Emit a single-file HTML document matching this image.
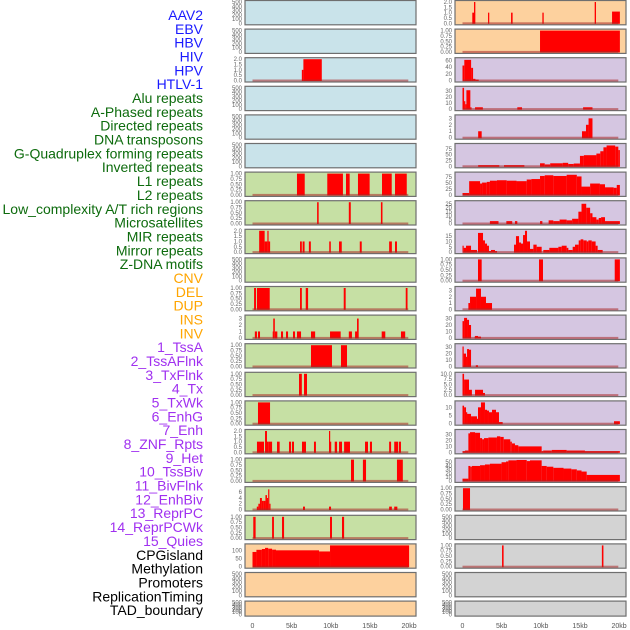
<!DOCTYPE html>
<html><head><meta charset="utf-8"><style>
html,body{margin:0;padding:0;background:#fff;width:630px;height:630px;overflow:hidden}
svg{display:block;font-family:"Liberation Sans",sans-serif}
</style></head><body>
<svg id="chart" width="630" height="630" viewBox="0 0 630 630"></svg>
<script>
const labels = ["AAV2","EBV","HBV","HIV","HPV","HTLV-1","Alu repeats","A-Phased repeats","Directed repeats","DNA transposons","G-Quadruplex forming repeats","Inverted repeats","L1 repeats","L2 repeats","Low_complexity A/T rich regions","Microsatellites","MIR repeats","Mirror repeats","Z-DNA motifs","CNV","DEL","DUP","INS","INV","1_TssA","2_TssAFlnk","3_TxFlnk","4_Tx","5_TxWk","6_EnhG","7_Enh","8_ZNF_Rpts","9_Het","10_TssBiv","11_BivFlnk","12_EnhBiv","13_ReprPC","14_ReprPCWk","15_Quies","CPGisland","Methylation","Promoters","ReplicationTiming","TAD_boundary"];
const labelColors = ["#1a1aff","#0d6b0d","#ffa500","#a030f0","#000000"];
const labelGroups = [0,0,0,0,0,0,1,1,1,1,1,1,1,1,1,1,1,1,1,2,2,2,2,2,3,3,3,3,3,3,3,3,3,3,3,3,3,3,3,4,4,4,4,4];
const xTickKb = [0,5,10,15,20];
const xTickLabels = ["0","5kb","10kb","15kb","20kb"];
const E = ["0","100","200","300","400","500"];
const P1 = ["0.00","0.25","0.50","0.75","1.00"];
const P2 = ["0.0","0.5","1.0","1.5","2.0"];
const leftTicks = [E,E,P2,E,E,E,P1,P1,P2,E,P1,["0","1","2","3"],P1,P1,P1,P2,P1,["0","2","4","6"],P1,["0","50","100"],E,E];
const leftMax = [500,500,2,500,500,500,1,1,2,500,1,3.3,1,1,1,2,1,7.4,1,130,500,500];
const rightTicks = [P2,P1,["0","20","40","60"],["0","10","20","30"],["0","1","2","3"],["0","25","50","75"],["0","25","50","75"],["0","5","10","15","20","25"],["0","5","10","15"],P1,["0","1","2","3"],["0","10","20","30"],["0","10","20","30"],["0.0","2.5","5.0","7.5","10.0"],["0","5","10"],["0","10","20","30"],["0","10","20","30","40","50"],P1,E,P1,E,E];
const rightMax = [2,1,64,35,3.3,92,90,27,20,1,3.4,33,33,10,13,36,57,1,500,1,500,500];
// segments: [startKb, endKb, value]
const leftSegs = [
 [],[],
 [[6.3,6.5,1],[6.5,8.85,2]],
 [],[],[],
 [[5.68,6.67,1],[9.55,11.55,1],[11.94,12.41,1],[13.47,14.96,1],[16.54,17.78,1],[18.2,19.7,1]],
 [[8.25,8.45,1],[12.3,12.55,1],[16.4,16.6,1]],
 [[0.85,1.55,2],[1.55,1.9,1],[1.9,2.05,2],[2.05,2.25,1],[6.07,6.3,1],[6.4,6.65,1],[7.2,7.45,1],[9.8,10.0,1],[11.05,11.4,1],[13.7,13.95,1],[17.45,17.8,1],[18.2,18.45,1]],
 [],
 [[0.2,0.45,1],[0.57,2.2,1],[6.07,6.3,1],[6.8,7.1,1],[11.65,11.9,1],[19.57,19.8,1]],
 [[0.3,0.57,1],[0.7,0.96,1],[2.58,2.65,1],[2.65,2.85,3],[2.85,3.17,1],[3.64,3.9,1],[4.28,4.54,1],[5.17,5.43,1],[5.68,6.2,1],[7.47,8.0,1],[9.9,11.26,1],[12.3,12.7,1],[13.1,13.35,1],[13.35,13.56,3],[16.5,16.96,1],[18.96,19.5,1]],
 [[7.47,10.15,1],[11.3,12.07,1]],
 [[5.94,6.3,1],[6.58,6.96,1]],
 [[0.7,2.24,1]],
 [[0.57,1.47,1],[1.6,1.85,2],[1.85,2.07,1],[2.07,2.5,1],[3.13,3.47,1],[4.66,4.92,1],[5.04,5.3,1],[6.32,6.83,1],[7.85,8.1,1],[9.77,9.9,2],[9.9,10.03,1],[10.5,10.8,1],[11.05,11.43,1],[11.7,12.45,1],[14.37,14.75,1],[15.0,15.26,1],[17.45,17.7,1],[18.1,18.6,1],[18.7,18.96,1]],
 [[12.58,12.96,1],[14.1,14.5,1],[18.45,19.2,1]],
 [[0.55,0.75,1],[0.75,0.95,2],[0.95,1.2,4],[1.2,1.45,3],[1.45,1.65,3],[1.65,1.85,5],[1.85,2.0,4],[2.0,2.15,7],[2.15,2.3,2],[6.45,6.7,1],[9.77,10.03,1],[17.45,17.8,1],[18.1,18.5,1]],
 [[0.1,0.4,1],[2.5,2.74,1],[3.77,4.03,1],[9.9,10.15,1],[11.43,11.7,1]],
 [[0,0.5,90],[0.5,1.2,103],[1.2,1.6,108],[1.6,2.0,115],[2.0,2.5,110],[2.5,3.0,104],[3.0,8.5,100],[8.5,9.9,93],[9.9,20,130]],
 [],[]
];
const rightSegs = [
 [[1.25,1.47,1],[1.47,1.64,2],[3.26,3.42,1],[6.2,6.4,1],[10.2,10.37,1],[16.88,17.05,2],[19.1,20.1,1.1]],
 [[9.9,20.1,1]],
 [[0,0.23,45],[0.23,1.1,62],[1.1,1.35,38],[1.35,1.65,5],[1.65,2.07,3]],
 [[0,0.2,35],[0.2,0.35,13],[0.35,0.5,8],[0.5,1.0,31],[1.0,1.15,3],[1.6,2.6,3],[7.0,7.6,3],[15.4,16.6,3]],
 [[2.0,2.45,1],[15.26,15.77,1],[15.77,16.1,2],[16.1,16.6,3]],
 [[2.0,4.7,5],[5.3,7.9,5],[9.9,10.5,13],[10.5,11.2,8],[11.2,12.8,13],[12.8,13.5,15],[13.5,14.2,10],[14.2,15.0,12],[15.0,15.5,45],[15.5,17.1,48],[17.1,17.6,55],[17.6,18.0,65],[18.0,18.4,82],[18.4,19.5,90],[19.5,19.9,85],[19.9,20.1,70]],
 [[0,0.85,8],[0.85,2.24,58],[2.24,2.5,48],[2.5,3.1,52],[3.1,3.5,55],[3.5,4.4,60],[4.4,5.64,62],[5.64,6.9,60],[6.9,8.2,58],[8.2,8.8,65],[8.8,9.9,67],[9.9,10.5,80],[10.5,11.6,83],[11.6,13.3,80],[13.3,14.6,85],[14.6,15.2,78],[15.2,16.3,35],[16.3,17.55,48],[17.55,18.2,45],[18.2,19.3,32],[19.3,19.7,30],[19.7,20.1,42]],
 [[3.5,4.6,3],[5.6,6.35,3],[6.7,7.0,3],[9.9,10.2,3],[11.0,11.6,4],[11.6,12.4,3],[12.4,13.3,5],[13.3,14.0,4],[14.0,14.8,6],[14.8,15.2,15],[15.2,15.8,25],[15.8,16.3,20],[16.3,16.6,13],[16.6,17.1,8],[17.1,17.4,5],[17.4,17.7,7],[17.7,18.2,8],[18.2,20.1,3]],
 [[0,0.15,6],[0.15,0.45,4],[0.45,1.09,6],[1.09,1.85,2],[1.98,2.62,18],[2.62,2.87,11],[2.87,3.13,8],[3.13,3.38,6],[3.38,3.64,1],[3.64,4.15,2],[4.15,4.41,1],[6.58,6.83,7],[6.83,7.22,15],[7.22,7.47,9],[7.47,7.73,8],[7.73,7.98,16],[7.98,8.24,20],[8.24,8.62,10],[8.62,9.05,3],[9.05,9.47,7],[9.47,10.11,5],[10.32,11.09,2],[11.09,12.24,4],[12.24,12.67,5],[12.67,13.3,6],[13.3,13.52,4],[13.52,14.07,2],[14.07,14.37,5],[14.37,14.84,7],[14.84,15.09,11],[15.09,15.43,12],[15.43,15.86,11],[15.86,16.07,10],[16.07,16.5,11],[16.5,17.0,10],[17.0,17.26,6],[17.26,17.9,2]],
 [[1.98,2.45,1],[9.77,10.28,1],[19.44,20.1,1]],
 [[0.75,0.96,1],[0.96,1.73,2],[1.73,2.36,3.3],[2.36,3.0,2],[3.0,3.77,1]],
 [[0,0.2,26],[0.2,0.58,31],[0.58,0.83,28],[0.83,1.09,20],[1.55,1.6,2],[1.6,1.98,3],[1.98,2.36,2]],
 [[0,0.15,31],[0.15,0.45,20],[0.45,0.58,15],[0.58,0.83,27],[0.83,1.09,26],[1.7,1.98,2]],
 [[0,0.2,10],[0.2,0.83,7.3],[0.83,1.2,2.5],[1.6,2.62,2.5],[2.62,2.87,1]],
 [[0,0.2,11],[0.2,0.45,10],[0.45,0.58,7],[0.58,1.09,6],[1.09,1.85,4.5],[1.85,1.98,3],[1.98,2.36,10],[2.36,2.87,13],[2.87,3.13,8.5],[3.13,3.38,8],[3.38,3.77,7],[3.77,4.28,8.5],[4.28,4.66,7],[4.66,5.13,1],[19.35,20.1,1.5]],
 [[0,0.32,2],[0.32,0.75,3],[0.75,0.96,32],[0.96,1.6,34],[1.6,2.24,33],[2.24,2.5,24],[2.5,2.75,22],[2.75,3.3,24],[3.3,4.4,25],[4.4,4.83,27],[4.83,5.26,26],[5.26,6.1,22],[6.1,6.3,18],[6.3,6.7,15],[6.7,7.13,12],[7.13,10.11,10],[10.11,10.3,2],[10.3,11.4,3],[11.4,13.3,4],[13.3,15.64,3],[15.64,20.1,2]],
 [[0,0.75,6],[0.75,1.0,40],[1.0,1.2,38],[1.2,2.24,40],[2.24,2.87,42],[2.87,3.5,44],[3.5,4.99,46],[4.99,5.56,50],[5.56,5.86,52],[5.86,6.9,55],[6.9,8.2,56],[8.2,8.62,53],[8.62,10.11,55],[10.11,10.75,40],[10.75,11.6,38],[11.6,12.9,35],[12.9,13.9,33],[13.9,14.6,31],[14.6,15.2,28],[15.2,15.86,25],[15.86,20.1,16]],
 [[0.06,0.96,1]],
 [],
 [[5.05,5.25,1],[17.8,18.0,1]],
 [],[]
];
const leftBg = ["#c9e3ea","#c9e3ea","#c9e3ea","#c9e3ea","#c9e3ea","#c9e3ea","#c6e0a4","#c6e0a4","#c6e0a4","#c6e0a4","#c6e0a4","#c6e0a4","#c6e0a4","#c6e0a4","#c6e0a4","#c6e0a4","#c6e0a4","#c6e0a4","#c6e0a4","#fdd19e","#fdd19e","#fdd19e"];
const rightBg = ["#fdd19e","#fdd19e","#d5c6e1","#d5c6e1","#d5c6e1","#d5c6e1","#d5c6e1","#d5c6e1","#d5c6e1","#d5c6e1","#d5c6e1","#d5c6e1","#d5c6e1","#d5c6e1","#d5c6e1","#d5c6e1","#d5c6e1","#d3d3d3","#d3d3d3","#d3d3d3","#d3d3d3","#d3d3d3"];

const NS = "http://www.w3.org/2000/svg";
const svg = document.getElementById("chart");
function mk(tag, attrs, parent){const e=document.createElementNS(NS,tag);for(const k in attrs)e.setAttribute(k,attrs[k]);(parent||svg).appendChild(e);return e;}

// labels
labels.forEach((t,i)=>{
  const el = mk("text",{x:203,y:(15+i*13.84+5).toFixed(1),"text-anchor":"end","font-size":"14",fill:labelColors[labelGroups[i]]});
  el.textContent = t;
  
  
});

const cols = [
  {x0:245,x1:416,z:252.5,tx:242,ticks:leftTicks,max:leftMax,segs:leftSegs,bg:leftBg},
  {x0:455,x1:626,z:462.5,tx:452,ticks:rightTicks,max:rightMax,segs:rightSegs,bg:rightBg}
];
const pxPerKb = 7.83;
cols.forEach((c,ci)=>{
  const xs = kb => c.z + kb*pxPerKb;
  for(let r=0;r<22;r++){
    const top = 0.5 + r*28.6;
    const h = r===21 ? 15 : 24.3;
    const bot = top + h;
    const ys = v => bot - 1.5 - v/c.max[r]*(h-3);
    const g = mk("g",{});
    
    
    mk("rect",{x:c.x0,y:top,width:c.x1-c.x0,height:h,fill:c.bg[r],stroke:"#6f6f6f","stroke-width":"1.2"},g);
    // y ticks
    c.ticks[r].forEach(lbl=>{
      const v=parseFloat(lbl);
      const t=mk("text",{x:c.tx,y:(ys(v)+2).toFixed(1),"text-anchor":"end","font-size":"6",fill:"#666"},g);
      t.textContent=lbl;
      
      
    });
    const segs=c.segs[r];
    segs.forEach(s=>{
      const x=xs(s[0]), w=Math.max(1.2,xs(s[1])-xs(s[0]));
      const b=mk("rect",{x:x.toFixed(2),y:ys(s[2]).toFixed(2),width:w.toFixed(2),height:(ys(0)-ys(s[2])+0.5).toFixed(2),fill:"#ff0000"},g);
      
      
    });
    if(segs.length){
      const ln=mk("rect",{x:xs(0).toFixed(1),y:(ys(0)-1).toFixed(1),width:(xs(19.9)-xs(0)).toFixed(1),height:2,fill:"rgba(170,40,40,0.55)"},g);
      
      
    }
  }
  xTickKb.forEach((k,i)=>{
    const t=mk("text",{x:xs(k).toFixed(1),y:628,"text-anchor":"middle","font-size":"7",fill:"#555"});
    t.textContent=xTickLabels[i];
    
    
  });
});
</script>
</body></html>
